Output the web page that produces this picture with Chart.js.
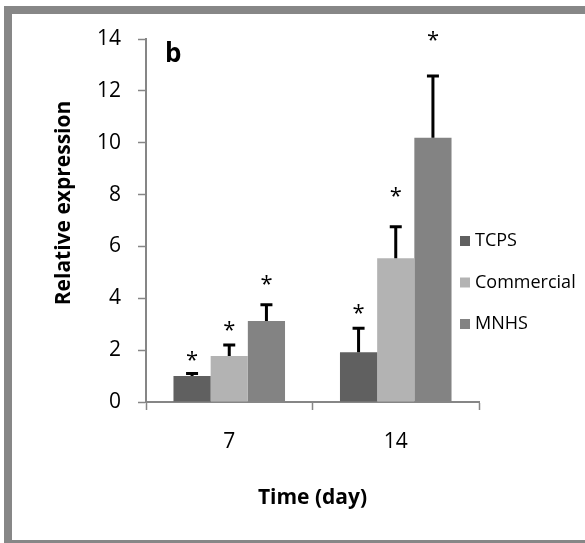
<!DOCTYPE html>
<html>
<head>
<meta charset="utf-8">
<script src="https://cdn.jsdelivr.net/npm/chart.js@4.4.0/dist/chart.umd.min.js"></script>
<style>
  html, body { margin: 0; padding: 0; background: #fff; }
  body { width: 585px; height: 543px; position: relative; overflow: hidden; }
  #frame { position: absolute; left: 4px; top: 6px; width: 620px; height: 526px; border: 8px solid #878787; }
  #chart { position: absolute; left: 0; top: 0; }
</style>
</head>
<body>
<div id="frame"></div>
<canvas id="chart" width="585" height="543"></canvas>
<script>
// dados
const categorias = ["7", "14"];
const rotulos = ["TCPS", "Commercial", "MNHS"];
const tcps = [1.0, 1.92];
const commercial = [1.77, 5.54];
const mnhs = [3.12, 10.19];
const tcpsErro = [0.1, 0.92];
const commercialErro = [0.43, 1.22];
const mnhsErro = [0.63, 2.38];
// altura dos asteriscos (em unidades do eixo y)
const tcpsAsterisco = [1.85, 3.66];
const commercialAsterisco = [3.0, 8.18];
const mnhsAsterisco = [4.78, 14.2];
const yTicks = [0, 2, 4, 6, 8, 10, 12, 14];

const cores = ["#606060", "#b3b3b3", "#838383"];
const erros = [tcpsErro, commercialErro, mnhsErro];
const asteriscos = [tcpsAsterisco, commercialAsterisco, mnhsAsterisco];
const fonte = "'Open Sans', 'DejaVu Sans', sans-serif";

const extras = {
  id: "extras",
  afterDatasetsDraw(chart) {
    const ctx = chart.ctx;
    const y = chart.scales.y;
    ctx.save();
    chart.data.datasets.forEach((ds, i) => {
      const meta = chart.getDatasetMeta(i);
      meta.data.forEach((bar, j) => {
        // barra de erro (so para cima)
        const topo = y.getPixelForValue(ds.data[j] + erros[i][j]);
        ctx.strokeStyle = "#000";
        ctx.lineWidth = 3;
        ctx.beginPath();
        ctx.moveTo(bar.x, bar.y);
        ctx.lineTo(bar.x, topo);
        ctx.moveTo(bar.x - 6, topo);
        ctx.lineTo(bar.x + 6, topo);
        ctx.stroke();
        // asterisco
        ctx.fillStyle = "#000";
        ctx.font = "22px " + fonte;
        ctx.textAlign = "center";
        ctx.textBaseline = "alphabetic";
        ctx.fillText("*", bar.x, y.getPixelForValue(asteriscos[i][j]) + 13);
      });
    });
    ctx.restore();
  },
  afterDraw(chart) {
    const ctx = chart.ctx;
    const area = chart.chartArea;
    ctx.save();
    ctx.fillStyle = "#000";
    // letra do painel
    ctx.font = "bold 26px " + fonte;
    ctx.textAlign = "left";
    ctx.textBaseline = "alphabetic";
    ctx.fillText("b", 165, 62);
    // titulos dos eixos
    ctx.font = "bold 21px " + fonte;
    ctx.textAlign = "center";
    ctx.textBaseline = "middle";
    ctx.fillText("Time (day)", (area.left + area.right) / 2, 498);
    ctx.translate(64, 203);
    ctx.rotate(-Math.PI / 2);
    ctx.fillText("Relative expression", 0, 0);
    ctx.restore();
    // legenda
    ctx.save();
    ctx.font = "18px " + fonte;
    ctx.textAlign = "left";
    ctx.textBaseline = "middle";
    chart.data.datasets.forEach((ds, i) => {
      const ly = 241 + i * 41.5;
      ctx.fillStyle = ds.backgroundColor;
      ctx.fillRect(460, ly - 5, 10, 10);
      ctx.fillStyle = "#000";
      ctx.fillText(ds.label, 475, ly);
    });
    ctx.restore();
  }
};

new Chart(document.getElementById("chart"), {
  type: "bar",
  data: {
    labels: categorias,
    datasets: [
      { label: rotulos[0], data: tcps, backgroundColor: cores[0] },
      { label: rotulos[1], data: commercial, backgroundColor: cores[1] },
      { label: rotulos[2], data: mnhs, backgroundColor: cores[2] }
    ]
  },
  options: {
    responsive: false,
    animation: false,
    layout: { padding: { left: 0, top: 39, right: 106, bottom: 81 } },
    datasets: { bar: { categoryPercentage: 0.67, barPercentage: 1.0 } },
    plugins: { legend: { display: false }, tooltip: { enabled: false } },
    scales: {
      x: {
        grid: { offset: true, drawOnChartArea: false, drawTicks: true, tickLength: 8, tickColor: "#868686", tickWidth: 1.5 },
        border: { color: "#868686", width: 2 },
        ticks: { color: "#000", font: { family: fonte, size: 21 }, padding: 19 },
        afterFit(s) { s.height = 60; }
      },
      y: {
        min: 0,
        max: 14,
        afterBuildTicks(s) { s.ticks = yTicks.map(v => ({ value: v })); },
        grid: { drawOnChartArea: false, drawTicks: true, tickLength: 8, tickColor: "#868686", tickWidth: 1.5 },
        border: { color: "#868686", width: 2 },
        ticks: { color: "#000", font: { family: fonte, size: 21 }, padding: 17 },
        afterFit(s) { s.width = 146; }
      }
    }
  },
  plugins: [extras]
});
</script>
</body>
</html>
